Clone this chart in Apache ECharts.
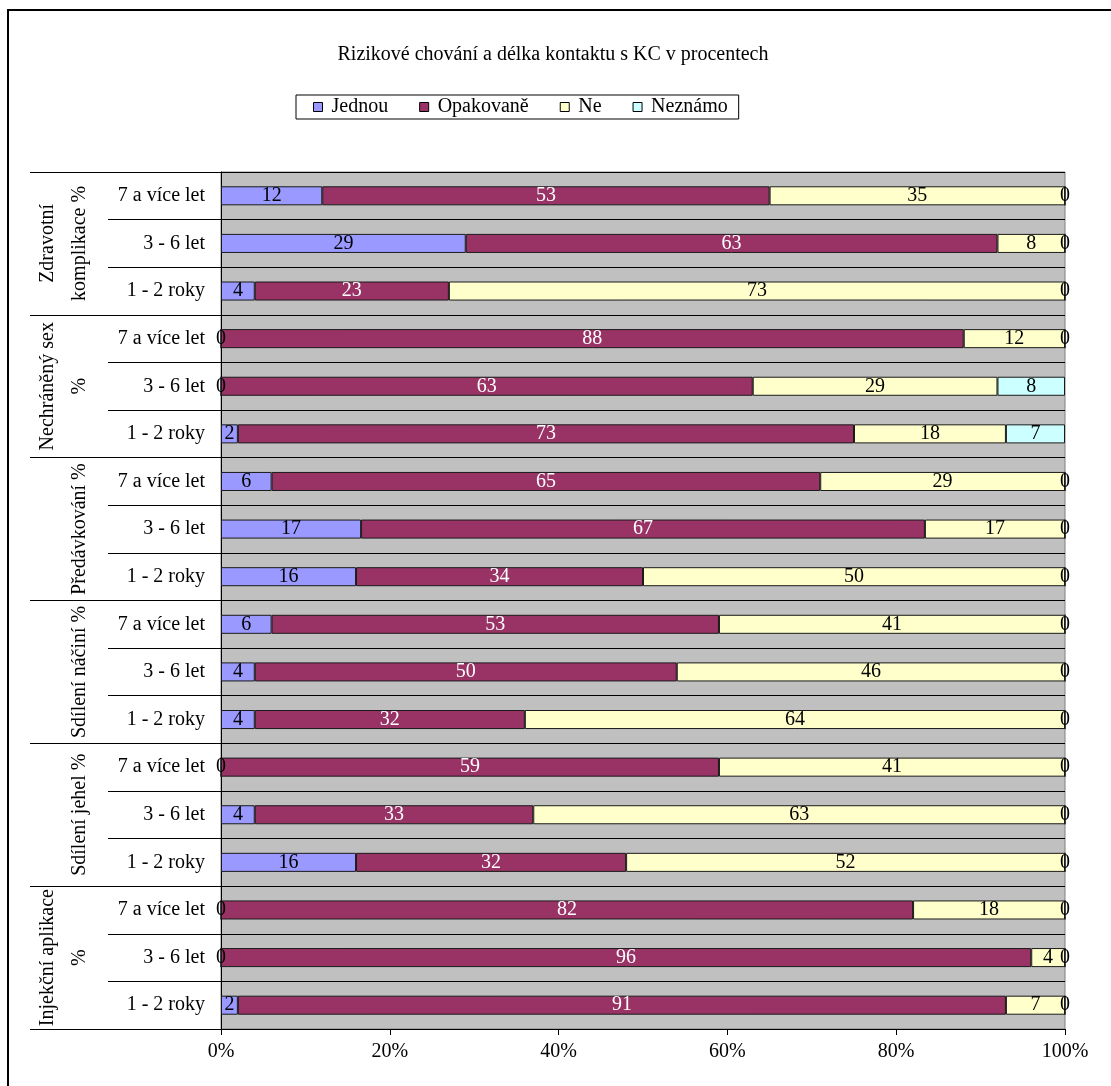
<!DOCTYPE html>
<html>
<head>
<meta charset="utf-8">
<script src="https://cdn.jsdelivr.net/npm/echarts@6/dist/echarts.min.js"></script>
<style>
html,body{margin:0;padding:0;background:#fff;}
#c{width:1111px;height:1086px;}
</style>
</head>
<body>
<div id="c"></div>
<script>
const title = 'Rizikové chování a délka kontaktu s KC v procentech';
const rowLabels = [
  '7 a více let','3 - 6 let','1 - 2 roky',
  '7 a více let','3 - 6 let','1 - 2 roky',
  '7 a více let','3 - 6 let','1 - 2 roky',
  '7 a více let','3 - 6 let','1 - 2 roky',
  '7 a více let','3 - 6 let','1 - 2 roky',
  '7 a více let','3 - 6 let','1 - 2 roky'
];
const groupLabels = [
  'Zdravotní\nkomplikace %',
  'Nechráněný sex\n%',
  'Předávkování %',
  'Sdílení náčiní %',
  'Sdílení jehel %',
  'Injekční aplikace\n%'
];
const seriesNames = ['Jednou','Opakovaně','Ne','Neznámo'];
const jednou    = [12, 29, 4,   0, 0, 2,   6, 16.6, 16,   6, 4, 4,   0, 4, 16,   0, 0, 2];
const opakovane = [53, 63, 23,  88, 63, 73, 65, 66.8, 34,  53, 50, 32, 59, 33, 32,  82, 96, 91];
const ne        = [35, 8, 73,   12, 29, 18, 29, 16.6, 50,  41, 46, 64, 41, 63, 52,  18, 4, 7];
const neznamo   = [0, 0, 0,     0, 8, 7,    0, 0, 0,       0, 0, 0,    0, 0, 0,     0, 0, 0];
const xTicks = [0, 20, 40, 60, 80, 100];

const colors = ['#9999FF','#993366','#FFFFCC','#CCFFFF'];
const labelColors = ['#000','#fff','#000','#000'];
const FONT = '"Liberation Serif", "Times New Roman", serif';

const chart = echarts.init(document.getElementById('c'), null, {renderer:'canvas'});
const dataSets = [jednou, opakovane, ne, neznamo];

const series = seriesNames.map((name, i) => ({
  name: name,
  type: 'bar',
  stack: 'total',
  barWidth: '40%',
  data: dataSets[i],
  itemStyle: { color: colors[i], borderColor: '#1a1a1a', borderWidth: 1 },
  label: {
    show: true,
    position: 'inside',
    color: labelColors[i],
    fontFamily: FONT,
    fontSize: 20,
    formatter: p => String(Math.round(p.value))
  },
  emphasis: { disabled: true },
  animation: false
}));

chart.setOption({
  animation: false,
  backgroundColor: '#fff',
  title: {
    text: title,
    left: 548,
    textAlign: 'center',
    top: 40,
    textStyle: { fontFamily: FONT, fontSize: 20, fontWeight: 'normal', color: '#000' }
  },
  legend: {
    data: seriesNames,
    left: 296,
    top: 95,
    orient: 'horizontal',
    borderColor: '#000',
    borderWidth: 1,
    padding: [2, 11, 2, 17],
    itemGap: 31,
    itemWidth: 9,
    itemHeight: 9,
    icon: 'rect',
    itemStyle: { borderColor: '#000', borderWidth: 1 },
    textStyle: { fontFamily: FONT, fontSize: 20, color: '#000', padding: [0, 0, 0, 4] }
  },
  grid: {
    left: 221, right: 46, top: 172, bottom: 57,
    show: true, backgroundColor: '#C0C0C0', borderColor: '#808080', borderWidth: 1
  },
  xAxis: {
    type: 'value',
    min: 0, max: 100, interval: 20,
    axisLine: { show: true, lineStyle: { color: '#000', width: 1 } },
    axisTick: { show: true, length: 6, lineStyle: { color: '#000' } },
    splitLine: { show: false },
    axisLabel: {
      formatter: v => v + '%',
      fontFamily: FONT, fontSize: 20, color: '#000', margin: 13
    },
    data: xTicks
  },
  yAxis: [
    {
      type: 'category',
      data: rowLabels,
      inverse: true,
      position: 'left',
      axisLine: { show: true, lineStyle: { color: '#000', width: 1 } },
      axisTick: { show: true, length: 113, lineStyle: { color: '#000' } },
      splitLine: { show: true, lineStyle: { color: '#000', width: 1 } },
      axisLabel: { interval: 0, fontFamily: FONT, fontSize: 20, color: '#000', margin: 16 }
    },
    {
      type: 'category',
      data: groupLabels,
      inverse: true,
      position: 'left',
      offset: 113,
      axisLine: { show: false },
      axisTick: { show: true, length: 78, lineStyle: { color: '#000' } },
      splitLine: { show: false },
      axisLabel: { interval: 0, rotate: 90, fontFamily: FONT, fontSize: 20, color: '#000', margin: 12, lineHeight: 32 }
    }
  ],
  series: series,
  graphic: [{
    type: 'rect',
    shape: { x: 8, y: 10, width: 1200, height: 1200 },
    style: { fill: 'none', stroke: '#000', lineWidth: 2 },
    silent: true,
    z: 100
  }]
});
</script>
</body>
</html>
